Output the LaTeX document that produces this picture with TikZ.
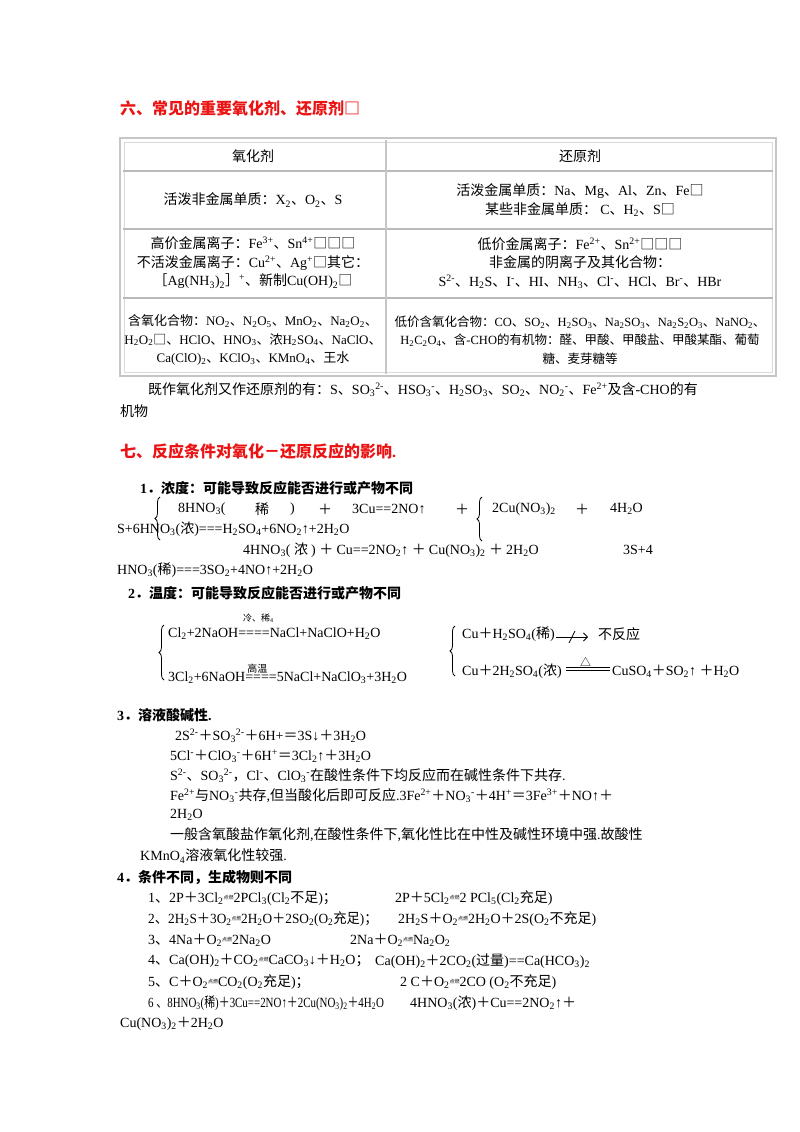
\documentclass[tikz,border=0pt]{standalone}
\usepackage{fontspec}
\setmainfont{Liberation Serif}
\newfontfamily\cjk{Noto Sans CJK SC}
\newcommand\latin{\rmfamily}
\usetikzlibrary{decorations.pathreplacing,arrows.meta}
\makeatletter
\XeTeXinterchartokenstate=1
\newXeTeXintercharclass\cjkcls
\def\setcls#1#2{\count@=#1 \loop \XeTeXcharclass\count@=\cjkcls \ifnum\count@<#2 \advance\count@ 1 \repeat}
\setcls{"4E00}{"9FFF}
\setcls{"3000}{"303F}
\setcls{"FF00}{"FFEF}
\XeTeXcharclass"25A1=\cjkcls
\XeTeXcharclass"25B3=\cjkcls
\XeTeXinterchartoks 0 \cjkcls = {\cjk}
\XeTeXinterchartoks 4095 \cjkcls = {\cjk}
\XeTeXinterchartoks \cjkcls 0 = {\latin}
\XeTeXinterchartoks 4095 0 = {\latin}
\makeatother
\newcommand\Sb[1]{\textsubscript{#1}}
\newcommand\Sp[1]{\textsuperscript{#1}}
\newcommand\dr{\raisebox{3pt}{\fontsize{5}{5}\selectfont 点燃}}
\definecolor{hd}{RGB}{235,20,20}
\tikzset{T/.style={anchor=west,inner sep=0pt,font=\fontsize{14}{16}\selectfont},
 C/.style={anchor=center,inner sep=0pt,align=center,font=\fontsize{14}{18.5}\selectfont},
 H/.style={anchor=west,inner sep=0pt,text=hd,font=\fontsize{16}{18}\selectfont\bfseries},
 B/.style={anchor=west,inner sep=0pt,font=\fontsize{14}{16}\selectfont\bfseries},
 grid/.style={draw=gray!55,line width=2.5pt},
 brc/.style={decorate,decoration={brace,amplitude=5pt},thick}}
\begin{document}
\begin{tikzpicture}[x=1pt,y=-1pt]
\useasboundingbox (0,0) rectangle (800,1132);
\fill[white] (0,0) rectangle (800,1132);
\node[H] (h6) at (120,108) {六、常见的重要氧化剂、还原剂□};
% table
\draw[draw=gray!45,line width=1.5pt] (120,138) rectangle (776,376);
\draw[draw=gray!30,line width=1pt] (124,142) rectangle (772,372);
\draw[grid] (123,171) -- (773,171);
\draw[grid] (123,229) -- (773,229);
\draw[grid] (123,298) -- (773,298);
\draw[draw=gray!45,line width=2pt] (386,140) -- (386,374);
\node[C] (t1) at (253,156) {氧化剂};
\node[C] (t2) at (580,156) {还原剂};
\node[C] (t3) at (253,200) {活泼非金属单质：X\Sb2、O\Sb2、S};
\node[C] (t4) at (580,200) {活泼金属单质：Na、Mg、Al、Zn、Fe□\\某些非金属单质： C、H\Sb2、S□};
\node[C] (t5) at (253,263) {高价金属离子：Fe\Sp{3+}、Sn\Sp{4+}□□□\\不活泼金属离子：Cu\Sp{2+}、Ag\Sp{+}□其它：\\［Ag(NH\Sb3)\Sb2］\Sp{+}、新制Cu(OH)\Sb2□};
\node[C] (t6) at (580,263) {低价金属离子：Fe\Sp{2+}、Sn\Sp{2+}□□□\\非金属的阴离子及其化合物：\\S\Sp{2-}、H\Sb2S、I\Sp{-}、HI、NH\Sb3、Cl\Sp{-}、HCl、Br\Sp{-}、HBr};
\node[C,font=\fontsize{13}{18.5}\selectfont] (t7) at (253,340) {含氧化合物：NO\Sb2、N\Sb2O\Sb5、MnO\Sb2、Na\Sb2O\Sb2、\\H\Sb2O\Sb2□、HClO、HNO\Sb3、浓H\Sb2SO\Sb4、NaClO、\\Ca(ClO)\Sb2、KClO\Sb3、KMnO\Sb4、王水};
\node[C,font=\fontsize{12.5}{18.5}\selectfont] (t8) at (580,340) {低价含氧化合物：CO、SO\Sb2、H\Sb2SO\Sb3、Na\Sb2SO\Sb3、Na\Sb2S\Sb2O\Sb3、NaNO\Sb2、\\H\Sb2C\Sb2O\Sb4、含-CHO的有机物：醛、甲酸、甲酸盐、甲酸某酯、葡萄\\糖、麦芽糖等};
\node[T] (p1) at (148,390) {既作氧化剂又作还原剂的有：S、SO\Sb3\Sp{2-}、HSO\Sb3\Sp{-}、H\Sb2SO\Sb3、SO\Sb2、NO\Sb2\Sp{-}、Fe\Sp{2+}及含-CHO的有};
\node[T] (p2) at (120,411) {机物};
\node[H] (h7) at (120,451) {七、反应条件对氧化－还原反应的影响.};
\node[B] (s1) at (140,488) {1．浓度：可能导致反应能否进行或产物不同};
\coordinate (b1a) at (160,540); \coordinate (b1b) at (160,497);
\draw[brc] (b1a) -- (b1b);
\node[T] (a1) at (178,509) {8HNO\Sb3(};
\node[T] (a2) at (255,509) {稀};
\node[T] (a3) at (290,509) {)};
\node[T] (a4) at (318,509) {＋};
\node[T] (a5) at (352,509) {3Cu==2NO↑};
\node[T] (a6) at (455,509) {＋};
\coordinate (b2a) at (482,541); \coordinate (b2b) at (482,497);
\draw[brc] (b2a) -- (b2b);
\node[T] (a7) at (492,509) {2Cu(NO\Sb3)\Sb2};
\node[T] (a8) at (575,509) {＋};
\node[T] (a9) at (610,509) {4H\Sb2O};
\node[T] (a10) at (117,529) {S+6HNO\Sb3(浓)===H\Sb2SO\Sb4+6NO\Sb2↑+2H\Sb2O};
\node[T] (a11) at (243,550) {4HNO\Sb3( 浓 ) ＋ Cu==2NO\Sb2↑ ＋ Cu(NO\Sb3)\Sb2 ＋ 2H\Sb2O};
\node[T] (a12) at (623,550) {3S+4};
\node[T] (a13) at (117,570) {HNO\Sb3(稀)===3SO\Sb2+4NO↑+2H\Sb2O};
\node[B] (s2) at (128,593) {2．温度：可能导致反应能否进行或产物不同};
\node[T,font=\fontsize{9}{10}\selectfont] (c0) at (243,618) {冷、稀\Sb4};
\coordinate (b3a) at (164,680); \coordinate (b3b) at (164,625);
\draw[brc] (b3a) -- (b3b);
\node[T] (c1) at (168,634) {Cl\Sb2+2NaOH====NaCl+NaClO+H\Sb2O};
\node[T] (c2) at (168,674) {3Cl\Sb2+6NaOH\rlap{\hspace{2pt}\raisebox{9pt}{\fontsize{10}{10}\selectfont 高温}}====5NaCl+NaClO\Sb3+3H\Sb2O};
\coordinate (b4a) at (455,676); \coordinate (b4b) at (455,626);
\draw[brc] (b4a) -- (b4b);
\node[T] (d1) at (462,634) {Cu＋H\Sb2SO\Sb4(稀)};
\coordinate (x1) at (556,637); \coordinate (x2) at (588,637);
\draw[-{Straight Barb[length=4pt]},thick] (x1) -- (x2);
\draw[thick] (569,643) -- (575,631);
\node[T] (d2) at (598,634) {不反应};
\node[T] (d3) at (462,671) {Cu＋2H\Sb2SO\Sb4(浓)};
\coordinate (y1) at (566,670); \coordinate (y2) at (610,670);
\draw[thick] (y1) -- (y2);
\draw[thick] ([yshift=3pt]y1) -- ([yshift=3pt]y2);
\node[T,font=\fontsize{11}{11}\selectfont] (d4) at (580,662) {△};
\node[T] (d5) at (612,671) {CuSO\Sb4＋SO\Sb2↑ ＋H\Sb2O};
\node[B] (s3) at (117,715) {3．溶液酸碱性.};
\node[T] (e1) at (175,736) {2S\Sp{2-}＋SO\Sb3\Sp{2-}＋6H+＝3S↓＋3H\Sb2O};
\node[T] (e2) at (170,756) {5Cl\Sp{-}＋ClO\Sb3\Sp{-}＋6H\Sp{+}＝3Cl\Sb2↑＋3H\Sb2O};
\node[T] (e3) at (170,776) {S\Sp{2-}、SO\Sb3\Sp{2-}，Cl\Sp{-}、ClO\Sb3\Sp{-}在酸性条件下均反应而在碱性条件下共存.};
\node[T] (e4) at (170,796) {Fe\Sp{2+}与NO\Sb3\Sp{-}共存,但当酸化后即可反应.3Fe\Sp{2+}＋NO\Sb3\Sp{-}＋4H\Sp{+}＝3Fe\Sp{3+}＋NO↑＋};
\node[T] (e5) at (170,815) {2H\Sb2O};
\node[T] (e6) at (170,835) {一般含氧酸盐作氧化剂,在酸性条件下,氧化性比在中性及碱性环境中强.故酸性};
\node[T] (e7) at (140,856) {KMnO\Sb4溶液氧化性较强.};
\node[B] (s4) at (117,877) {4．条件不同，生成物则不同};
\node[T] (f1) at (148,898) {1、2P＋3Cl\Sb2\dr2PCl\Sb3(Cl\Sb2不足)；};
\node[T] (f2) at (395,898) {2P＋5Cl\Sb2\dr2 PCl\Sb5(Cl\Sb2充足)};
\node[T] (f3) at (148,919) {\scalebox{0.95}[1]{2、2H\Sb2S＋3O\Sb2\dr2H\Sb2O＋2SO\Sb2(O\Sb2充足)；}};
\node[T] (f4) at (398,919) {2H\Sb2S＋O\Sb2\dr2H\Sb2O＋2S(O\Sb2不充足)};
\node[T] (f5) at (148,940) {3、4Na＋O\Sb2\dr2Na\Sb2O};
\node[T] (f6) at (350,940) {2Na＋O\Sb2\dr Na\Sb2O\Sb2};
\node[T] (f7) at (148,961) {4、Ca(OH)\Sb2＋CO\Sb2\dr CaCO\Sb3↓＋H\Sb2O；};
\node[T] (f8) at (375,961) {Ca(OH)\Sb2＋2CO\Sb2(过量)==Ca(HCO\Sb3)\Sb2};
\node[T] (f9) at (148,982) {5、C＋O\Sb2\dr CO\Sb2(O\Sb2充足)；};
\node[T] (f10) at (400,982) {2 C＋O\Sb2\dr2CO (O\Sb2不充足)};
\node[T] (f11) at (148,1003) {\scalebox{0.78}[1]{6 、8HNO\Sb3(稀)＋3Cu==2NO↑＋2Cu(NO\Sb3)\Sb2＋4H\Sb2O}};
\node[T] (f12) at (410,1003) {4HNO\Sb3(浓)＋Cu==2NO\Sb2↑＋};
\node[T] (f13) at (120,1024) {Cu(NO\Sb3)\Sb2＋2H\Sb2O};
\end{tikzpicture}
\end{document}
